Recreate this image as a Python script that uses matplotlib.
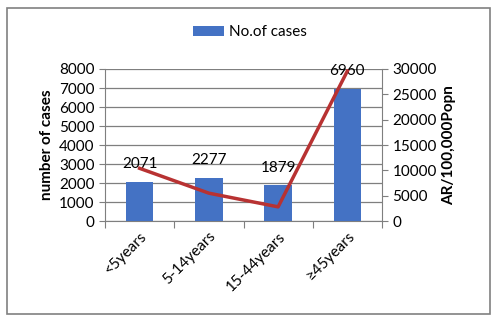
import matplotlib
matplotlib.use("Agg")
import matplotlib.pyplot as plt
from matplotlib.patches import Rectangle
from matplotlib.ticker import MultipleLocator

categories = ["<5years", "5-14years", "15-44years", "\u226545years"]
cases = [2071, 2277, 1879, 6960]
attack_rate = [10400, 5500, 2800, 29600]

plt.rcParams['font.family'] = ['Lato', 'DejaVu Sans']

fig = plt.figure(figsize=(5, 3.27), dpi=100)
fig.patches.append(Rectangle((0.014, 0.04), 0.966, 0.935, transform=fig.transFigure,
                             fill=False, edgecolor="#808080", linewidth=1.2))

ax = fig.add_axes([0.21, 0.324, 0.554, 0.465])
x = list(range(len(categories)))
bars = ax.bar(x, cases, width=0.4, color="#4472C4", label="No.of cases", zorder=3)
ax.set_ylim(0, 8000)
ax.set_xlim(-0.5, 3.5)
ax.yaxis.set_major_locator(MultipleLocator(1000))
ax.grid(axis="y", color="#7f7f7f", linewidth=0.9, zorder=0)
ax.set_xticks([i - 0.5 for i in range(5)])
ax.set_xticklabels([])
ax.set_xticks(x, minor=True)
ax.set_xticklabels(categories, minor=True, rotation=45, ha="right", rotation_mode="anchor", fontsize=11)
ax.tick_params(axis="x", which="minor", length=0, pad=6)
ax.tick_params(axis="x", which="major", length=5, color="#7f7f7f", direction="out")
ax.tick_params(axis="y", labelsize=11, length=4, color="#7f7f7f")
for s in ["top", "right"]:
    ax.spines[s].set_visible(False)
ax.spines["left"].set_color("#7f7f7f")
ax.spines["bottom"].set_color("#7f7f7f")
ax.set_ylabel("number of cases", fontsize=11, fontweight="bold", labelpad=4)

for xi, c in zip(x, cases):
    ax.annotate(str(c), (xi, c), xytext=(0, 12.5), textcoords="offset points",
                ha="center", va="center", fontsize=11, zorder=6)

ax2 = ax.twinx()
ax2.plot(x, attack_rate, color="#B83232", linewidth=2.5, zorder=4)
ax2.set_ylim(0, 30000)
ax2.yaxis.set_major_locator(MultipleLocator(5000))
ax2.tick_params(axis="y", labelsize=11, length=4, color="#7f7f7f")
for s in ["top", "left", "bottom"]:
    ax2.spines[s].set_visible(False)
ax2.spines["right"].set_color("#7f7f7f")
ax2.set_ylabel("AR/100,000Popn", fontsize=11, fontweight="bold", labelpad=4)

fig.legend(handles=[bars], labels=["No.of cases"], loc="upper center",
           bbox_to_anchor=(0.5, 0.965), frameon=False, fontsize=11,
           handlelength=2.0, handleheight=0.6, handletextpad=0.3)

fig.savefig("out.png", dpi=100)
